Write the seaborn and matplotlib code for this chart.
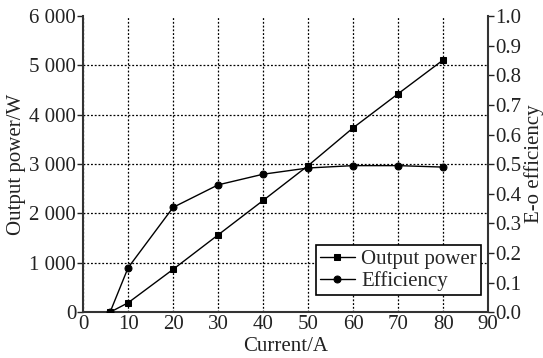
import matplotlib
matplotlib.use("Agg")
import matplotlib.pyplot as plt
import seaborn as sns
import pandas as pd

current = [6, 10, 20, 30, 40, 50, 60, 70, 80]
output_power = [0, 190, 868, 1566, 2264, 2970, 3736, 4427, 5111]
efficiency = [0, 0.150, 0.354, 0.430, 0.466, 0.487, 0.495, 0.495, 0.490]

power_ticks = [0, 1000, 2000, 3000, 4000, 5000, 6000]
power_labels = ["0", "1 000", "2 000", "3 000", "4 000", "5 000", "6 000"]

sns.set_theme(style="white")
plt.rcParams['font.family'] = ['Liberation Serif', 'DejaVu Serif']

df = pd.DataFrame({'current': current, 'power': output_power, 'eff': efficiency})

fig = plt.figure(figsize=(5.43, 3.58), dpi=100)
ax = fig.add_axes([0.153, 0.128, 0.746, 0.827])
ax2 = ax.twinx()

sns.lineplot(data=df, x='current', y='power', ax=ax, color='black', lw=1,
             marker='s', markersize=5, markeredgecolor='black', label='Output power', legend=False)
sns.lineplot(data=df, x='current', y='eff', ax=ax2, color='black', lw=1,
             marker='o', markersize=5, markeredgecolor='black', label='Efficiency', legend=False)

ax.set_xlim(0, 90)
ax.set_ylim(0, 6000)
ax2.set_ylim(0, 1.0)
ax.set_xticks(range(0, 91, 10))
ax.set_yticks(power_ticks)
ax.set_yticklabels(power_labels)
ax2.set_yticks([i / 10 for i in range(11)])
ax2.set_yticklabels([f"{i / 10:.1f}" for i in range(11)])

ax.grid(True, color='black', linestyle=(0, (1.5, 1.5)), lw=0.9)
ax2.grid(False)
# no grid line along the open top edge
ax.get_ygridlines()[-1].set_visible(False)

for a in (ax, ax2):
    a.spines['top'].set_visible(False)
    for s in ('left', 'right', 'bottom'):
        a.spines[s].set_color('#333333')
        a.spines[s].set_linewidth(1.5)
    a.tick_params(axis='both', direction='out', length=4, width=1, colors='#222222',
                  labelsize=15, pad=1)
ax.tick_params(axis='x', length=0, pad=2)
ax.spines['right'].set_visible(False)
ax2.spines['left'].set_visible(False)
ax2.spines['bottom'].set_visible(False)

ax.set_xlabel('Current/A', fontsize=15, labelpad=2, color='#222222')
ax.set_ylabel('Output power/W', fontsize=15, labelpad=2, color='#222222')
ax2.set_ylabel('E-o efficiency', fontsize=15, labelpad=2, color='#222222')

h1, l1 = ax.get_legend_handles_labels()
h2, l2 = ax2.get_legend_handles_labels()
leg = ax2.legend(h1 + h2, l1 + l2, loc='lower right', bbox_to_anchor=(0.983, 0.058),
                 fontsize=15, frameon=True, fancybox=False, edgecolor='black',
                 handlelength=1.7, handletextpad=0.3, borderpad=0.2, labelspacing=0.1,
                 borderaxespad=0)
leg.get_frame().set_linewidth(1.2)
leg.get_frame().set_facecolor('white')
leg.get_frame().set_alpha(1)

fig.savefig('out.png', dpi=100)
